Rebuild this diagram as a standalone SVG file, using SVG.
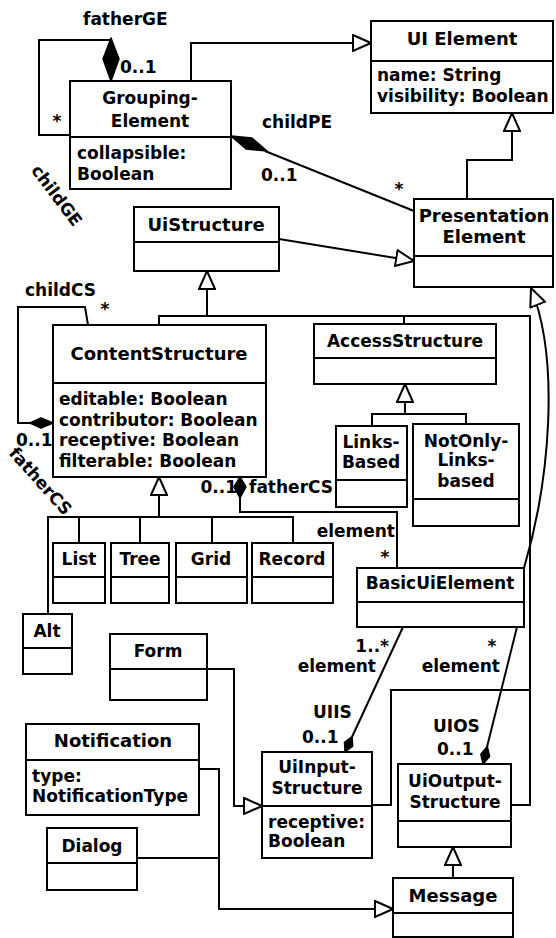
<svg xmlns="http://www.w3.org/2000/svg" width="556" height="938" viewBox="0 0 556 938">
<style>
.box{fill:#fff;stroke:#000;stroke-width:2}
.ln{fill:none;stroke:#000;stroke-width:2}
.dm{fill:#000;stroke:#000;stroke-width:1.5;stroke-linejoin:round}
text{font-family:"DejaVu Sans",Verdana,sans-serif;font-weight:bold;font-size:17px;fill:#000}
.c{text-anchor:middle}
.e{text-anchor:end}
.L{font-size:18px}
</style>
<defs>
<marker id="gen" markerUnits="userSpaceOnUse" viewBox="0 0 20 18" refX="19" refY="9" markerWidth="20" markerHeight="18" orient="auto">
<path d="M1,1 L19,9 L1,17 Z" fill="#fff" stroke="#000" stroke-width="2"/>
</marker>
</defs>
<rect width="556" height="938" fill="#fff"/>

<g id="connectors">
<polyline class="ln" points="111,40 39,40 39,135 70,135"/>
<polygon class="dm" points="111,38 119,59 111,81 103,59"/>
<polyline class="ln" points="191,81 191,43 371,43" marker-end="url(#gen)"/>
<line class="ln" x1="265" y1="151" x2="414" y2="211"/>
<polygon class="dm" points="231,136 252,138 267,151 246,149"/>
<line class="ln" x1="279" y1="239" x2="414" y2="261" marker-end="url(#gen)"/>
<polyline class="ln" points="467,199 467,160 512,160 512,113" marker-end="url(#gen)"/>
<polyline class="ln" points="207,316 207,271" marker-end="url(#gen)"/>
<path class="ln" d="M159,325 V316 H530 V690 H391 V805 H372 M530,690 V805 H511 M404,324 V316"/>
<path class="ln" d="M524,568 C550,480 560,360 531,288" marker-end="url(#gen)"/>
<polyline class="ln" points="88,325 85,307 18,307 18,423 30,423"/>
<polygon class="dm" points="30,423 41,418 53,423 41,428"/>
<polyline class="ln" points="240,498 240,512 397,512 397,568"/>
<polygon class="dm" points="240,477 246,487 240,498 234,487"/>
<polyline class="ln" points="159,517 159,477" marker-end="url(#gen)"/>
<path class="ln" d="M48,614 V517 H293 V543 M79,517 V543 M140,517 V543 M212,517 V543"/>
<polyline class="ln" points="405,414 405,384" marker-end="url(#gen)"/>
<path class="ln" d="M372,426 V414 H466 V424"/>
<line class="ln" x1="403" y1="627" x2="352" y2="737"/>
<polygon class="dm" points="352.1,736.6 352.7,746.2 345,752 344.5,742.4"/>
<line class="ln" x1="517" y1="627" x2="487" y2="747"/>
<polygon class="dm" points="487.3,746.5 489.6,756.4 483,764 480.8,754.2"/>
<polyline class="ln" points="207,669 234,669 234,806 262,806" marker-end="url(#gen)"/>
<polyline class="ln" points="199,769 219,769 219,909 393,909" marker-end="url(#gen)"/>
<line class="ln" x1="137" y1="858" x2="219" y2="858"/>
<polyline class="ln" points="453,878 453,847" marker-end="url(#gen)"/>
</g>

<g id="labels">
<text x="83" y="25">fatherGE</text>
<text x="120" y="73">0..1</text>
<text class="c" x="57" y="127">*</text>
<text class="c" x="52" y="199" transform="rotate(53 52 199)">childGE</text>
<text x="262" y="128">childPE</text>
<text x="261" y="181">0..1</text>
<text class="c" x="399" y="195">*</text>
<text x="25" y="296">childCS</text>
<text class="c" x="105" y="315">*</text>
<text x="16" y="446">0..1</text>
<text class="c" x="36" y="485" transform="rotate(48 36 485)">fatherCS</text>
<text class="e" x="237" y="493">0..1</text>
<text x="249" y="493">fatherCS</text>
<text class="e" x="395" y="537">element</text>
<text class="c" x="385" y="563">*</text>
<text class="e" x="389" y="652">1..*</text>
<text class="e" x="376" y="672">element</text>
<text x="313" y="718">UIIS</text>
<text x="302" y="743">0..1</text>
<text class="c" x="492" y="652">*</text>
<text class="e" x="500" y="672">element</text>
<text x="433" y="732">UIOS</text>
<text x="437" y="755">0..1</text>
</g>

<g id="GroupingElement">
<rect class="box" x="70" y="81" width="161" height="108"/>
<line class="ln" x1="70" y1="137" x2="231" y2="137"/>
<text class="c" x="150" y="104">Grouping-</text>
<text class="c" x="150" y="127">Element</text>
<text x="77" y="159">collapsible:</text>
<text x="77" y="180">Boolean</text>
</g>

<g id="UIElement">
<rect class="box" x="371" y="21" width="182" height="92"/>
<line class="ln" x1="371" y1="61" x2="553" y2="61"/>
<text class="c L" x="462" y="45">UI Element</text>
<text x="377" y="81">name: String</text>
<text x="377" y="102">visibility: Boolean</text>
</g>

<g id="PresentationElement">
<rect class="box" x="414" y="199" width="139" height="88"/>
<line class="ln" x1="414" y1="256" x2="553" y2="256"/>
<text class="c L" x="484" y="222">Presentation</text>
<text class="c L" x="484" y="243">Element</text>
</g>

<g id="UiStructure">
<rect class="box" x="134" y="207" width="145" height="64"/>
<line class="ln" x1="134" y1="242" x2="279" y2="242"/>
<text class="c L" x="206" y="231">UiStructure</text>
</g>

<g id="ContentStructure">
<rect class="box" x="53" y="325" width="213" height="152"/>
<line class="ln" x1="53" y1="383" x2="266" y2="383"/>
<text class="c L" x="159" y="360">ContentStructure</text>
<text x="59" y="405">editable: Boolean</text>
<text x="59" y="426">contributor: Boolean</text>
<text x="59" y="446">receptive: Boolean</text>
<text x="59" y="467">filterable: Boolean</text>
</g>

<g id="AccessStructure">
<rect class="box" x="314" y="324" width="182" height="60"/>
<line class="ln" x1="314" y1="358" x2="496" y2="358"/>
<text class="c" x="405" y="347">AccessStructure</text>
</g>

<g id="LinksBased">
<rect class="box" x="336" y="426" width="71" height="81"/>
<line class="ln" x1="336" y1="480" x2="407" y2="480"/>
<text class="c" x="371" y="448">Links-</text>
<text class="c" x="371" y="468">Based</text>
</g>

<g id="NotOnlyLinksBased">
<rect class="box" x="413" y="424" width="106" height="102"/>
<line class="ln" x1="413" y1="499" x2="519" y2="499"/>
<text class="c" x="466" y="447">NotOnly-</text>
<text class="c" x="466" y="466">Links-</text>
<text class="c" x="466" y="487">based</text>
</g>

<g id="List">
<rect class="box" x="53" y="543" width="52" height="60"/>
<line class="ln" x1="53" y1="577" x2="105" y2="577"/>
<text class="c" x="79" y="565">List</text>
</g>

<g id="Tree">
<rect class="box" x="111" y="543" width="58" height="60"/>
<line class="ln" x1="111" y1="577" x2="169" y2="577"/>
<text class="c" x="140" y="565">Tree</text>
</g>

<g id="Grid">
<rect class="box" x="176" y="543" width="71" height="60"/>
<line class="ln" x1="176" y1="577" x2="247" y2="577"/>
<text class="c" x="211" y="565">Grid</text>
</g>

<g id="Record">
<rect class="box" x="252" y="543" width="81" height="60"/>
<line class="ln" x1="252" y1="577" x2="333" y2="577"/>
<text class="c" x="292" y="565">Record</text>
</g>

<g id="Alt">
<rect class="box" x="23" y="614" width="49" height="60"/>
<line class="ln" x1="23" y1="648" x2="72" y2="648"/>
<text class="c" x="47" y="637">Alt</text>
</g>

<g id="BasicUiElement">
<rect class="box" x="357" y="568" width="167" height="59"/>
<line class="ln" x1="357" y1="602" x2="524" y2="602"/>
<text class="c" x="440" y="589">BasicUiElement</text>
</g>

<g id="Form">
<rect class="box" x="110" y="634" width="97" height="66"/>
<line class="ln" x1="110" y1="669" x2="207" y2="669"/>
<text class="c" x="158" y="657">Form</text>
</g>

<g id="Notification">
<rect class="box" x="26" y="724" width="173" height="91"/>
<line class="ln" x1="26" y1="760" x2="199" y2="760"/>
<text class="c L" x="113" y="747">Notification</text>
<text x="32" y="782">type:</text>
<text x="32" y="802">NotificationType</text>
</g>

<g id="Dialog">
<rect class="box" x="47" y="828" width="90" height="62"/>
<line class="ln" x1="47" y1="863" x2="137" y2="863"/>
<text class="c" x="92" y="852">Dialog</text>
</g>

<g id="UiInputStructure">
<rect class="box" x="262" y="752" width="110" height="106"/>
<line class="ln" x1="262" y1="806" x2="372" y2="806"/>
<text class="c" x="317" y="773">UiInput-</text>
<text class="c" x="317" y="794">Structure</text>
<text x="268" y="828">receptive:</text>
<text x="268" y="847">Boolean</text>
</g>

<g id="UiOutputStructure">
<rect class="box" x="398" y="764" width="113" height="83"/>
<line class="ln" x1="398" y1="821" x2="511" y2="821"/>
<text class="c" x="455" y="787">UiOutput-</text>
<text class="c" x="455" y="808">Structure</text>
</g>

<g id="Message">
<rect class="box" x="393" y="878" width="120" height="59"/>
<line class="ln" x1="393" y1="913" x2="513" y2="913"/>
<text class="c L" x="453" y="902">Message</text>
</g>
</svg>
